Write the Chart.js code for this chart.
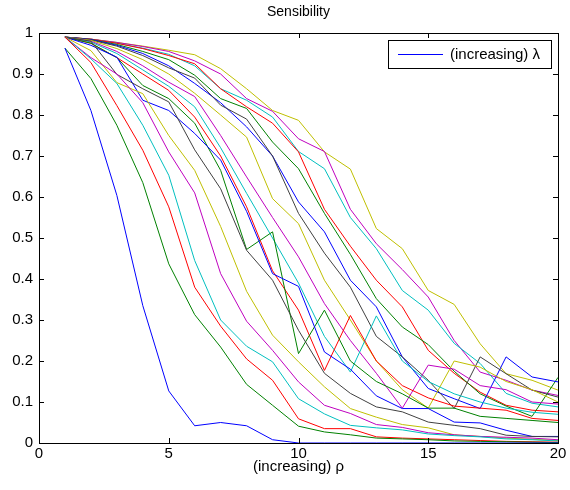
<!DOCTYPE html>
<html>
<head>
<meta charset="utf-8">
<script src="https://cdn.jsdelivr.net/npm/chart.js@4.4.1/dist/chart.umd.min.js"></script>
<style>
  html, body { margin: 0; padding: 0; background: #fff; }
  #wrap { width: 570px; height: 490px; }
</style>
</head>
<body>
<div id="wrap"><canvas id="sensChart" width="570" height="490"></canvas></div>
<script>
// rho values (x axis)
const rho = [1,2,3,4,5,6,7,8,9,10,11,12,13,14,15,16,17,18,19,20];

// one curve per lambda, increasing
const lambda1  = [0.963,0.811,0.604,0.335,0.127,0.042,0.05,0.042,0.008,0,0,0,0,0,0,0,0,0,0,0];
const lambda2  = [0.963,0.889,0.775,0.635,0.437,0.313,0.234,0.143,0.092,0.041,0.027,0.02,0.012,0.01,0.008,0.005,0.004,0.003,0.002,0.001];
const lambda3  = [0.99,0.928,0.823,0.714,0.576,0.38,0.285,0.205,0.153,0.059,0.035,0.035,0.015,0.012,0.01,0.008,0.006,0.004,0.003,0.002];
const lambda4  = [0.99,0.937,0.877,0.775,0.653,0.445,0.30,0.236,0.198,0.108,0.071,0.043,0.037,0.032,0.022,0.018,0.015,0.01,0.008,0.005];
const lambda5  = [0.99,0.94,0.90,0.83,0.71,0.61,0.413,0.297,0.226,0.149,0.092,0.072,0.045,0.038,0.025,0.02,0.016,0.014,0.012,0.008];
const lambda6  = [0.99,0.957,0.879,0.852,0.75,0.665,0.528,0.37,0.263,0.198,0.137,0.084,0.063,0.045,0.037,0.02,0.016,0.012,0.009,0.006];
const lambda7  = [0.99,0.98,0.899,0.864,0.832,0.715,0.62,0.47,0.397,0.275,0.17,0.121,0.088,0.076,0.051,0.043,0.035,0.019,0.016,0.015];
const lambda8  = [0.99,0.97,0.941,0.836,0.811,0.755,0.69,0.565,0.413,0.382,0.222,0.18,0.115,0.084,0.084,0.051,0.049,0.031,0.016,0.016];
const lambda9  = [0.99,0.975,0.94,0.872,0.84,0.78,0.665,0.472,0.515,0.218,0.324,0.2,0.15,0.12,0.085,0.085,0.065,0.06,0.055,0.05];
const lambda10 = [0.99,0.975,0.94,0.90,0.86,0.795,0.70,0.576,0.42,0.324,0.177,0.311,0.2,0.14,0.11,0.09,0.085,0.08,0.06,0.055];
const lambda11 = [0.99,0.978,0.95,0.91,0.87,0.82,0.72,0.609,0.5,0.39,0.26,0.173,0.31,0.2,0.15,0.12,0.1,0.085,0.075,0.07];
const lambda12 = [0.99,0.98,0.955,0.92,0.88,0.845,0.75,0.649,0.55,0.454,0.34,0.25,0.17,0.085,0.19,0.18,0.14,0.13,0.1,0.095];
const lambda13 = [0.99,0.982,0.962,0.935,0.90,0.853,0.80,0.746,0.596,0.535,0.397,0.30,0.2,0.13,0.085,0.2,0.185,0.15,0.13,0.1];
const lambda14 = [0.99,0.983,0.968,0.945,0.915,0.89,0.824,0.79,0.70,0.56,0.463,0.38,0.26,0.21,0.153,0.084,0.21,0.169,0.129,0.112];
const lambda15 = [0.99,0.984,0.97,0.95,0.92,0.877,0.83,0.771,0.70,0.588,0.515,0.397,0.332,0.21,0.133,0.108,0.084,0.21,0.161,0.149];
const lambda16 = [0.99,0.984,0.972,0.955,0.935,0.897,0.84,0.816,0.734,0.669,0.56,0.46,0.352,0.283,0.24,0.175,0.12,0.09,0.065,0.16];
const lambda17 = [0.99,0.985,0.975,0.962,0.945,0.925,0.864,0.82,0.78,0.71,0.57,0.48,0.397,0.332,0.226,0.17,0.124,0.092,0.08,0.076];
const lambda18 = [0.99,0.985,0.975,0.963,0.948,0.92,0.864,0.836,0.795,0.711,0.669,0.55,0.474,0.372,0.324,0.243,0.194,0.121,0.097,0.088];
const lambda19 = [0.99,0.985,0.977,0.967,0.955,0.932,0.90,0.84,0.809,0.742,0.711,0.57,0.486,0.423,0.356,0.25,0.173,0.153,0.129,0.116];
const lambda20 = [0.99,0.985,0.977,0.968,0.958,0.947,0.913,0.864,0.811,0.787,0.71,0.668,0.523,0.474,0.372,0.338,0.242,0.169,0.153,0.129];

const curves = [lambda1, lambda2, lambda3, lambda4, lambda5, lambda6, lambda7, lambda8, lambda9, lambda10,
                lambda11, lambda12, lambda13, lambda14, lambda15, lambda16, lambda17, lambda18, lambda19, lambda20];

const xTicks = [0, 5, 10, 15, 20];
const yTicks = [0, 0.1, 0.2, 0.3, 0.4, 0.5, 0.6, 0.7, 0.8, 0.9, 1];

const legendLabel = '(increasing) \u03bb';

// matlab style colour order
const colorOrder = ['#0000ff', '#008000', '#ff0000', '#00bfbf', '#bf00bf', '#bfbf00', '#404040'];

const FONT = '"Liberation Sans", Arial, sans-serif';

const datasets = curves.map(function (vals, i) {
    return {
        label: i === 0 ? legendLabel : 'lambda ' + (i + 1),
        data: rho.map(function (r, j) { return { x: r, y: vals[j] }; }),
        borderColor: colorOrder[i % colorOrder.length],
        borderWidth: 1,
        pointRadius: 0,
        tension: 0,
        fill: false
    };
});

// box, inward ticks, title and legend drawn matlab-like
const matlabAxes = {
    id: 'matlabAxes',
    afterDraw(chart) {
        const ctx = chart.ctx;
        const a = chart.chartArea;
        const xs = chart.scales.x, ys = chart.scales.y;
        ctx.save();
        ctx.strokeStyle = '#000';
        ctx.lineWidth = 1;
        ctx.strokeRect(Math.round(a.left) + 0.5, Math.round(a.top) + 0.5,
                       Math.round(a.right - a.left), Math.round(a.bottom - a.top));
        ctx.beginPath();
        xTicks.forEach(function (t) {
            const px = Math.round(xs.getPixelForValue(t)) + 0.5;
            ctx.moveTo(px, a.bottom); ctx.lineTo(px, a.bottom - 5);
            ctx.moveTo(px, a.top); ctx.lineTo(px, a.top + 5);
        });
        yTicks.forEach(function (t) {
            const py = Math.round(ys.getPixelForValue(t)) + 0.5;
            ctx.moveTo(a.left, py); ctx.lineTo(a.left + 5, py);
            ctx.moveTo(a.right, py); ctx.lineTo(a.right - 5, py);
        });
        ctx.stroke();

        // title
        ctx.fillStyle = '#000';
        ctx.font = '14px ' + FONT;
        ctx.textAlign = 'center';
        ctx.textBaseline = 'middle';
        ctx.fillText('Sensibility', (a.left + a.right) / 2, 12);

        // legend
        const bx = 388.5, by = 40.5, bw = 163, bh = 28;
        ctx.fillStyle = '#fff';
        ctx.fillRect(bx, by, bw, bh);
        ctx.strokeRect(bx, by, bw, bh);
        ctx.strokeStyle = chart.data.datasets[0].borderColor;
        ctx.beginPath();
        ctx.moveTo(398, 54.5); ctx.lineTo(443, 54.5);
        ctx.stroke();
        ctx.fillStyle = '#000';
        ctx.font = '15px ' + FONT;
        ctx.textAlign = 'left';
        ctx.fillText(chart.data.datasets[0].label, 450, 55);
        ctx.restore();
    }
};

new Chart(document.getElementById('sensChart'), {
    type: 'line',
    data: { datasets: datasets },
    options: {
        responsive: false,
        animation: false,
        layout: { padding: { top: 33, right: 12, left: 0, bottom: 0 } },
        plugins: {
            legend: { display: false },
            title: { display: false },
            tooltip: { enabled: false }
        },
        scales: {
            x: {
                type: 'linear',
                min: 0, max: 20,
                afterBuildTicks(scale) { scale.ticks = xTicks.map(function (v) { return { value: v }; }); },
                afterFit(scale) { scale.height = 47; },
                grid: { display: false, drawTicks: false },
                border: { display: false },
                ticks: { color: '#000', padding: 2, font: { family: FONT, size: 15 }, maxRotation: 0 },
                title: { display: true, text: '(increasing) \u03c1', color: '#000',
                         font: { family: FONT, size: 15 }, padding: { top: 0, bottom: 14 } }
            },
            y: {
                type: 'linear',
                min: 0, max: 1,
                afterBuildTicks(scale) { scale.ticks = yTicks.map(function (v) { return { value: v }; }); },
                afterFit(scale) { scale.width = 39; },
                grid: { display: false, drawTicks: false },
                border: { display: false },
                ticks: { color: '#000', padding: 6, font: { family: FONT, size: 15 },
                         callback: function (v) { return String(Math.round(v * 10) / 10); } }
            }
        }
    },
    plugins: [matlabAxes]
});
</script>
</body>
</html>
